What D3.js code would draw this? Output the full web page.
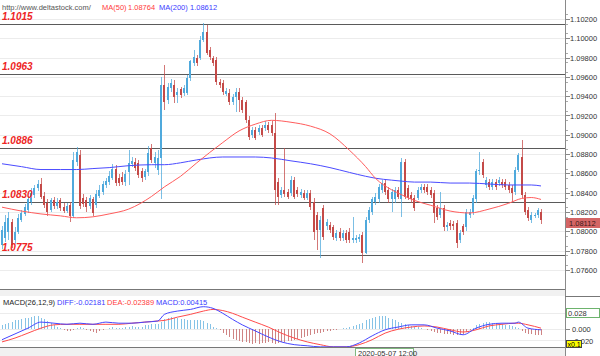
<!DOCTYPE html>
<html><head><meta charset="utf-8">
<script src="https://cdn.jsdelivr.net/npm/d3@7"></script>
<style>
body{margin:0;background:#fff}
svg{display:block;font-family:"Liberation Sans",Arial,sans-serif}
</style>
</head><body>
<svg id="c" width="600" height="356"></svg>
<script>
// ---------- DATA ----------
const opens = [
1.0786,1.0793,1.0799,1.0810,1.0791,1.0799,1.0812,1.0818,1.0822,1.0830,
1.0838,1.0845,1.0849,1.0837,1.0829,1.0822,1.0832,1.0826,1.0832,1.0825,
1.0821,1.0827,1.0816,1.0872,1.0879,1.0835,1.0832,1.0826,1.0833,1.0827,
1.0837,1.0841,1.0848,1.0851,1.0855,1.0865,1.0855,1.0856,1.0851,1.0861,
1.0870,1.0872,1.0871,1.0862,1.0856,1.0861,1.0886,1.0871,1.0864,
1.0876,1.0952,1.0936,1.0949,1.0952,1.0941,1.0947,1.0943,1.0943,1.0959,
1.0974,1.0980,1.0980,1.0998,1.1007,1.0988,1.0980,1.0978,1.0955,1.0954,
1.0942,1.0943,1.0934,1.0939,1.0944,1.0936,1.0934,1.0915,1.0900,1.0905,
1.0903,1.0907,1.0907,1.0910,1.0910,1.0902,1.0851,1.0838,1.0843,1.0841,
1.0840,1.0853,1.0843,1.0838,1.0840,1.0835,1.0840,1.0830,1.0817,1.0801,
1.0824,1.0805,1.0807,1.0804,1.0793,1.0799,1.0793,1.0798,1.0799,1.0791,
1.0791,1.0792,1.0796,1.0778,1.0812,1.0820,1.0830,1.0833,1.0843,1.0850,
1.0843,1.0833,1.0833,1.0843,1.0833,1.0872,1.0845,1.0838,1.0835,1.0835,
1.0843,1.0846,1.0846,1.0843,1.0840,1.0824,1.0817,1.0824,1.0804,1.0809,
1.0808,1.0809,1.0791,1.0805,1.0804,1.0817,1.0820,1.0833,1.0862,1.0872,
1.0848,1.0851,1.0846,1.0851,1.0850,1.0851,1.0851,1.0848,1.0845,1.0841,
1.0864,1.0877,1.0838,1.0822,1.0812,1.0816,1.0817,1.0820];
const highs = [
1.0806,1.0817,1.0820,1.0813,1.0804,1.0818,1.0822,1.0828,1.0836,1.0845,
1.0848,1.0853,1.0855,1.0841,1.0833,1.0835,1.0836,1.0834,1.0835,1.0829,
1.0829,1.0830,1.0882,1.0887,1.0884,1.0839,1.0836,1.0838,1.0836,1.0843,
1.0848,1.0852,1.0855,1.0862,1.0870,1.0869,1.0859,1.0861,1.0864,1.0884,
1.0877,1.0876,1.0874,1.0866,1.0865,1.0888,1.0890,1.0882,1.0884,
1.0960,1.0972,1.0954,1.0958,1.0957,1.0949,1.0950,1.0952,1.0962,1.0978,
1.0988,1.0983,1.1002,1.1016,1.1014,1.0991,1.0982,1.0981,1.0958,1.0957,
1.0949,1.0947,1.0942,1.0949,1.0948,1.0939,1.0936,1.0919,1.0908,1.0908,
1.0910,1.0910,1.0914,1.0913,1.0914,1.0923,1.0855,1.0846,1.0886,1.0844,
1.0857,1.0856,1.0846,1.0844,1.0843,1.0843,1.0843,1.0835,1.0820,1.0816,
1.0827,1.0813,1.0810,1.0807,1.0801,1.0803,1.0801,1.0801,1.0803,1.0815,
1.0796,1.0797,1.0799,1.0815,1.0825,1.0836,1.0840,1.0849,1.0853,1.0853,
1.0846,1.0844,1.0846,1.0846,1.0876,1.0875,1.0848,1.0841,1.0838,1.0846,
1.0849,1.0849,1.0849,1.0846,1.0843,1.0827,1.0841,1.0827,1.0810,1.0812,
1.0811,1.0812,1.0801,1.0808,1.0823,1.0823,1.0838,1.0865,1.0882,1.0875,
1.0856,1.0854,1.0854,1.0854,1.0856,1.0854,1.0854,1.0851,1.0848,1.0867,
1.0881,1.0895,1.0841,1.0825,1.0820,1.0819,1.0824,1.0823];
const lows = [
1.0782,1.0789,1.0791,1.0783,1.0787,1.0797,1.0810,1.0816,1.0819,1.0827,
1.0835,1.0842,1.0833,1.0824,1.0816,1.0820,1.0823,1.0823,1.0821,1.0819,
1.0819,1.0810,1.0814,1.0868,1.0823,1.0825,1.0820,1.0823,1.0816,1.0824,
1.0834,1.0838,1.0845,1.0848,1.0853,1.0847,1.0847,1.0848,1.0847,1.0848,
1.0867,1.0863,1.0855,1.0851,1.0853,1.0857,1.0871,1.0866,1.0858,
1.0833,1.0926,1.0932,1.0944,1.0933,1.0933,1.0938,1.0940,1.0941,1.0956,
1.0971,1.0971,1.0978,1.0996,1.0983,1.0978,1.0971,1.0952,1.0949,1.0941,
1.0940,1.0931,1.0931,1.0924,1.0924,1.0923,1.0912,1.0895,1.0897,1.0895,
1.0900,1.0898,1.0904,1.0902,1.0899,1.0827,1.0827,1.0835,1.0836,1.0833,
1.0837,1.0833,1.0836,1.0835,1.0832,1.0832,1.0822,1.0791,1.0781,1.0772,
1.0791,1.0801,1.0798,1.0791,1.0790,1.0790,1.0790,1.0788,1.0788,1.0788,
1.0788,1.0789,1.0767,1.0776,1.0809,1.0817,1.0827,1.0829,1.0840,1.0838,
1.0829,1.0820,1.0829,1.0833,1.0815,1.0833,1.0832,1.0829,1.0821,1.0832,
1.0840,1.0840,1.0838,1.0835,1.0809,1.0812,1.0814,1.0800,1.0800,1.0801,
1.0801,1.0783,1.0788,1.0796,1.0800,1.0814,1.0817,1.0829,1.0858,1.0855,
1.0845,1.0843,1.0843,1.0843,1.0847,1.0845,1.0843,1.0840,1.0830,1.0838,
1.0861,1.0835,1.0817,1.0811,1.0809,1.0814,1.0814,1.0808];
const closes = [
1.0801,1.0810,1.0814,1.0786,1.0799,1.0814,1.0819,1.0825,1.0833,1.0840,
1.0845,1.0849,1.0836,1.0827,1.0820,1.0832,1.0826,1.0830,1.0824,1.0821,
1.0826,1.0816,1.0874,1.0882,1.0826,1.0828,1.0825,1.0834,1.0819,1.0839,
1.0843,1.0849,1.0852,1.0857,1.0865,1.0850,1.0850,1.0851,1.0859,1.0871,
1.0873,1.0866,1.0858,1.0855,1.0862,1.0881,1.0874,1.0877,1.0876,
1.0952,1.0934,1.0950,1.0954,1.0939,1.0944,1.0941,1.0949,1.0959,1.0976,
1.0981,1.0974,1.0998,1.1007,1.0985,1.0981,1.0974,1.0955,1.0952,1.0944,
1.0945,1.0934,1.0939,1.0944,1.0936,1.0926,1.0915,1.0898,1.0905,1.0897,
1.0907,1.0900,1.0910,1.0905,1.0902,1.0843,1.0836,1.0843,1.0839,1.0836,
1.0853,1.0836,1.0839,1.0841,1.0835,1.0840,1.0825,1.0799,1.0801,1.0812,
1.0794,1.0810,1.0801,1.0794,1.0798,1.0793,1.0798,1.0791,1.0791,1.0793,
1.0793,1.0794,1.0778,1.0812,1.0822,1.0833,1.0836,1.0846,1.0850,1.0841,
1.0833,1.0841,1.0843,1.0836,1.0872,1.0836,1.0835,1.0833,1.0824,1.0843,
1.0846,1.0843,1.0841,1.0838,1.0819,1.0815,1.0824,1.0804,1.0807,1.0805,
1.0805,1.0788,1.0798,1.0799,1.0820,1.0820,1.0835,1.0862,1.0864,1.0858,
1.0853,1.0846,1.0851,1.0846,1.0853,1.0848,1.0846,1.0843,1.0840,1.0864,
1.0879,1.0838,1.0820,1.0814,1.0817,1.0817,1.0822,1.08112];

// moving averages sampled at bar indices
const maIndex = [0,6,12,18,23,28,33,39,46,50,55,60,68,73,78,83,89,95,101,107,112,115,120,123,127,132,138,144,150,156,160,163,166];
const ma50 = [1.0825,1.0821,1.0818,1.0816,1.0814,1.0815,1.0818,1.0823,1.0836,1.0846,1.0857,1.0871,1.0892,1.0904,1.0911,1.0915,1.0913,1.0909,1.0901,1.0884,1.0867,1.0855,1.0843,1.0838,1.0832,1.0827,1.0821,1.0819,1.0823,1.0829,1.0834,1.0835,1.0833];
const ma200 = [1.0870,1.0867,1.0864,1.0864,1.0864,1.0865,1.0866,1.0868,1.0869,1.0869,1.0871,1.0874,1.0877,1.0877,1.0877,1.0876,1.0873,1.0870,1.0866,1.0861,1.0857,1.0855,1.0853,1.0852,1.0851,1.0851,1.0850,1.0850,1.0849,1.0848,1.0848,1.0848,1.0847];

// MACD lines sampled at bar indices
const macdIndex = [0,4,8,12,16,20,24,28,32,36,40,44,48,50,54,58,62,65,68,71,74,78,82,86,90,94,98,102,106,110,114,118,122,126,130,134,138,142,146,150,154,158,159,162,166];
const diffLine = [-0.020,-0.0095,0.001,0.012,0.010,0.008,0.010,0.008,0.012,0.010,0.010,0.012,0.014,0.026,0.032,0.035,0.040,0.037,0.028,0.017,0.007,-0.004,-0.015,-0.024,-0.029,-0.031,-0.033,-0.033,-0.033,-0.026,-0.013,-0.002,0.003,0.007,0.007,0.001,-0.004,-0.011,0.001,0.008,0.010,0.010,0.012,0.001,-0.002];
const deaLine = [-0.024,-0.017,-0.008,0.001,0.007,0.008,0.008,0.008,0.008,0.008,0.010,0.012,0.014,0.015,0.021,0.026,0.032,0.035,0.033,0.028,0.021,0.012,0.003,-0.008,-0.017,-0.024,-0.029,-0.033,-0.033,-0.029,-0.020,-0.008,-0.001,0.003,0.005,0.003,-0.002,-0.006,-0.002,0.005,0.008,0.010,0.010,0.007,0.001];
const macdHist = [
0.006,0.009,0.011,0.013,0.015,0.016,0.018,0.019,0.020,0.021,0.023,0.024,0.020,0.017,
0.014,0.010,0.006,0.003,0.001,-0.002,-0.004,-0.005,-0.003,0.002,0.003,0.001,-0.002,-0.004,-0.006,-0.007,-0.005,-0.003,-0.001,0.002,0.003,0.002,0.001,0.002,0.003,0.004,0.005,0.004,0.003,0.004,0.006,0.007,0.008,0.009,0.008,
0.012,0.018,0.020,0.021,0.020,0.019,0.018,0.017,0.016,0.016,0.015,0.016,0.015,0.014,0.011,0.008,0.004,0.001,
-0.003,-0.007,-0.011,-0.015,-0.018,-0.020,-0.022,-0.024,-0.025,-0.026,-0.027,-0.026,-0.027,-0.026,-0.026,-0.025,-0.026,-0.027,-0.026,-0.025,-0.024,-0.023,-0.022,-0.021,-0.019,-0.017,-0.015,-0.013,-0.011,-0.009,-0.008,-0.007,-0.006,-0.005,-0.004,-0.003,-0.002,-0.001,
0.001,0.002,0.003,0.005,0.006,0.008,0.011,0.015,0.018,0.020,0.022,0.023,0.024,0.023,0.020,0.018,0.015,0.013,0.011,0.009,0.007,0.005,0.004,0.003,0.001,0.000,
-0.002,-0.004,-0.006,-0.007,-0.008,-0.009,-0.010,-0.010,-0.011,-0.011,-0.010,-0.009,-0.006,-0.002,0.002,0.006,0.009,0.011,0.012,0.012,0.011,0.010,0.009,0.008,0.007,0.006,0.005,0.003,0.001,-0.004,-0.007,-0.009,-0.010,-0.011,-0.011,-0.012];

const priceTicks = [1.076,1.078,1.080,1.082,1.084,1.086,1.088,1.090,1.092,1.094,1.096,1.098,1.100,1.102];
const levels = [1.1015,1.0963,1.0886,1.0830,1.0775];
const levelLabels = ["1.1015","1.0963","1.0886","1.0830","1.0775"];
const macdTicks = [0.028,0.000,-0.020];
const macdTickLabels = ["0.028","0.000","-0.020"];
const lastPrice = 1.08112;
const headerText = {url:"http://www.deltastock.com/", ma50:"MA(50)", ma50v:"1.08764", ma200:"MA(200)", ma200v:"1.08612"};
const macdLegend = {name:"MACD(26,12,9)", diff:"DIFF:-0.02181", dea:"DEA:-0.02389", macd:"MACD:0.00415"};
const dateLabel = "2020-05-07 12:00";
const scaleNote = "x0.1";

// ---------- DRAWING ----------
const svg = d3.select("#c");
const W = 600, H = 356, plotR = 565;
const x = d3.scaleLinear().domain([0, opens.length - 1]).range([2, 541]);
const y = d3.scaleLinear().domain([1.076, 1.102]).range([269.9, 19]);
const ym = d3.scaleLinear().domain([-0.020, 0.028]).range([339.7, 313.3]);
const BLUE = "#4fa9dc", RED = "#c44a48";

svg.append("rect").attr("width", W).attr("height", H).attr("fill", "#fff");

// price grid
svg.append("g").selectAll("line").data(priceTicks).join("line")
  .attr("x1", 0).attr("x2", plotR)
  .attr("y1", d => Math.round(y(d)) + 0.5).attr("y2", d => Math.round(y(d)) + 0.5)
  .attr("stroke", "#ececec");

// level lines
svg.append("g").selectAll("line").data(levels).join("line")
  .attr("x1", 0).attr("x2", plotR)
  .attr("y1", d => Math.round(y(d)) + 0.5).attr("y2", d => Math.round(y(d)) + 0.5)
  .attr("stroke", "#5a5a5a");

// candles
const cg = svg.append("g").attr("shape-rendering", "crispEdges");
opens.forEach((o, i) => {
  const c = closes[i], up = c >= o, col = up ? BLUE : RED;
  const cx = Math.round(x(i));
  cg.append("rect").attr("x", cx).attr("width", 1)
    .attr("y", y(highs[i])).attr("height", Math.max(1, y(lows[i]) - y(highs[i])))
    .attr("fill", col).attr("opacity", 0.75);
  const top = y(Math.max(o, c)), bot = y(Math.min(o, c));
  cg.append("rect").attr("x", cx - 1).attr("width", 2)
    .attr("y", top).attr("height", Math.max(1, bot - top)).attr("fill", col);
});

// moving averages
const maLine = vals => d3.line().x((d, i) => x(maIndex[i])).y(d => y(d)).curve(d3.curveMonotoneX)(vals);
svg.append("path").attr("d", maLine(ma200)).attr("fill", "none").attr("stroke", "#4b4bff").attr("stroke-width", 1);
svg.append("path").attr("d", maLine(ma50)).attr("fill", "none").attr("stroke", "#ff5c5c").attr("stroke-width", 1);

// level labels on top
svg.append("g").selectAll("text").data(levels).join("text")
  .attr("x", 2).attr("y", d => Math.round(y(d)) - 4)
  .attr("font-size", 10).attr("font-weight", "bold").attr("font-style", "italic")
  .attr("fill", "#ee2424").text((d, i) => levelLabels[i]);

// header
svg.append("text").attr("x", 2).attr("y", 10).attr("font-size", 7.5).attr("fill", "#555").text(headerText.url);
svg.append("text").attr("x", 102).attr("y", 10).attr("font-size", 7.5).attr("fill", "#ff3b3b").text(headerText.ma50);
svg.append("text").attr("x", 128).attr("y", 10).attr("font-size", 7.5).attr("fill", "#ff3b3b").text(headerText.ma50v);
svg.append("text").attr("x", 159).attr("y", 10).attr("font-size", 7.5).attr("fill", "#3b3bff").text(headerText.ma200);
svg.append("text").attr("x", 190).attr("y", 10).attr("font-size", 7.5).attr("fill", "#3b3bff").text(headerText.ma200v);

// right axis (price)
svg.append("line").attr("x1", plotR + 0.5).attr("x2", plotR + 0.5).attr("y1", 0).attr("y2", H).attr("stroke", "#8a8a8a");
const minorTicks = d3.range(1.0765, 1.1025, 0.001);
svg.append("g").selectAll("line").data(minorTicks).join("line")
  .attr("x1", plotR + 1).attr("x2", plotR + 3)
  .attr("y1", d => Math.round(y(d)) + 0.5).attr("y2", d => Math.round(y(d)) + 0.5).attr("stroke", "#aaa");
svg.append("g").selectAll("line").data(priceTicks).join("line")
  .attr("x1", plotR + 1).attr("x2", plotR + 5)
  .attr("y1", d => Math.round(y(d)) + 0.5).attr("y2", d => Math.round(y(d)) + 0.5).attr("stroke", "#888");
svg.append("g").selectAll("text").data(priceTicks).join("text")
  .attr("x", 570).attr("y", d => y(d) + 3).attr("font-size", 7.5).attr("fill", "#333")
  .text(d => d3.format(".5f")(d));

// last price box
const ly = Math.round(y(lastPrice)) + 3;
svg.append("rect").attr("x", 566).attr("y", ly - 5).attr("width", 34).attr("height", 10).attr("fill", "#d46565");
svg.append("text").attr("x", 569).attr("y", ly + 3).attr("font-size", 7.5).attr("fill", "#3a1a1a").text(d3.format(".5f")(lastPrice));

// panel separator
svg.append("rect").attr("x", 0).attr("y", 290).attr("width", plotR).attr("height", 6).attr("fill", "#f1f1f1");
svg.append("line").attr("x1", 0).attr("x2", plotR).attr("y1", 289.5).attr("y2", 289.5).attr("stroke", "#777");
svg.append("line").attr("x1", plotR).attr("x2", W).attr("y1", 296.5).attr("y2", 296.5).attr("stroke", "#777");

// MACD grid
svg.append("g").selectAll("line").data(macdTicks).join("line")
  .attr("x1", 0).attr("x2", plotR)
  .attr("y1", d => Math.round(ym(d)) + 0.5).attr("y2", d => Math.round(ym(d)) + 0.5).attr("stroke", "#ececec");

// MACD histogram
svg.append("g").attr("shape-rendering", "crispEdges").selectAll("line").data(macdHist).join("line")
  .attr("x1", (d, i) => Math.round(x(i)) + 0.5).attr("x2", (d, i) => Math.round(x(i)) + 0.5)
  .attr("y1", ym(0)).attr("y2", d => ym(d))
  .attr("stroke", d => d >= 0 ? "#86c3e6" : "#cf8484");

// MACD lines
const mLine = vals => d3.line().x((d, i) => x(macdIndex[i])).y(d => ym(d)).curve(d3.curveMonotoneX)(vals);
svg.append("path").attr("d", mLine(deaLine)).attr("fill", "none").attr("stroke", "#ff4a4a");
svg.append("path").attr("d", mLine(diffLine)).attr("fill", "none").attr("stroke", "#4646ff");

// MACD legend
svg.append("text").attr("x", 3).attr("y", 305).attr("font-size", 7.5).attr("fill", "#222").text(macdLegend.name);
svg.append("text").attr("x", 57).attr("y", 305).attr("font-size", 7.5).attr("fill", "#3b3bff").text(macdLegend.diff);
svg.append("text").attr("x", 107).attr("y", 305).attr("font-size", 7.5).attr("fill", "#ff3b3b").text(macdLegend.dea);
svg.append("text").attr("x", 156).attr("y", 305).attr("font-size", 7.5).attr("fill", "#3b3bff").text(macdLegend.macd);

// MACD axis
svg.append("g").selectAll("line").data(macdTicks).join("line")
  .attr("x1", plotR + 1).attr("x2", plotR + 5)
  .attr("y1", d => Math.round(ym(d)) + 0.5).attr("y2", d => Math.round(ym(d)) + 0.5).attr("stroke", "#888");
svg.append("rect").attr("x", 566.5).attr("y", Math.round(ym(0.028)) - 4.5).attr("width", 33).attr("height", 9)
  .attr("fill", "#fff").attr("stroke", "#6db36d");
svg.append("g").selectAll("text").data(macdTicks).join("text")
  .attr("x", (d, i) => i === 0 ? 568 : 572)
  .attr("y", d => ym(d) + 3 + (d < 0 ? 1 : 0)).attr("font-size", 7.5).attr("fill", "#333")
  .text((d, i) => macdTickLabels[i]);
svg.append("rect").attr("x", 566.5).attr("y", 340.5).attr("width", 15).attr("height", 7)
  .attr("fill", "#ffff00").attr("stroke", "#444");
svg.append("text").attr("x", 567.5).attr("y", 347).attr("font-size", 7).attr("fill", "#000").text(scaleNote);

// bottom bar
svg.append("rect").attr("x", 0).attr("y", 348).attr("width", plotR).attr("height", 8).attr("fill", "#f1f1f1");
svg.append("line").attr("x1", 0).attr("x2", plotR).attr("y1", 347.5).attr("y2", 347.5).attr("stroke", "#777");
svg.append("rect").attr("x", 355.5).attr("y", 348.5).attr("width", 58).attr("height", 8)
  .attr("fill", "#fff").attr("stroke", "#7fb87f");
svg.append("text").attr("x", 358).attr("y", 355.5).attr("font-size", 7.5).attr("fill", "#333").text(dateLabel);
</script>
</body></html>
